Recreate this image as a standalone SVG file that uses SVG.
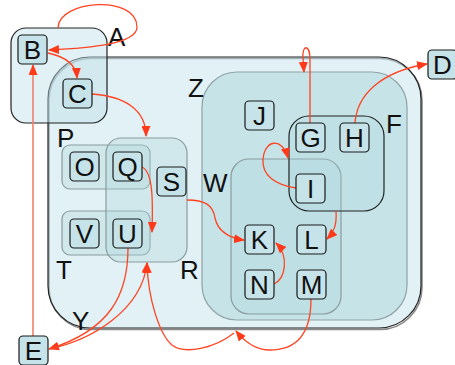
<svg xmlns="http://www.w3.org/2000/svg" width="455" height="365" viewBox="0 0 455 365">
  <defs>
    <style>
      .grp { stroke-width: 1.2; }
      .outer { fill: rgba(190,225,232,0.45); stroke: #222; }
      .inner { fill: rgba(170,214,220,0.5); stroke: #8fa3a5; }
      .box { fill: rgba(175,215,222,0.35); stroke: #8a9c9e; }
      .dark { fill: rgba(170,214,220,0.25); stroke: #222; }
      .node rect { fill: #c5e3e8; stroke: #1a1a1a; stroke-width: 1.2; }
      text { font-family: "Liberation Sans", Arial, sans-serif; font-size: 26px; fill: #111; }
      .node text { text-anchor: middle; }
      .edge { fill: none; stroke: #ff4422; stroke-width: 1.3; marker-end: url(#arrow); }
      .soft { stroke: #f2806c; stroke-width: 1.6; }
    </style>
    <marker id="arrow" viewBox="0 0 11 9" refX="10" refY="4.5" markerWidth="11" markerHeight="9" markerUnits="userSpaceOnUse" orient="auto">
      <path d="M0,0 L11,4.5 L0,9 z" fill="#ff3a1a"/>
    </marker>
  </defs>

  <!-- clusters -->
  <g id="Y">
    <rect x="49" y="58.5" width="373" height="271" rx="42" fill="none" stroke="#8a8a8a" stroke-width="1.6"/>
    <rect class="grp outer" x="48" y="57" width="373" height="271" rx="42"/>
    <text x="72" y="330">Y</text>
  </g>
  <g id="A"><rect class="grp outer" x="11" y="28" width="96" height="95" rx="15" stroke="#444"/><text x="108" y="46">A</text></g>
  <g id="Z"><rect class="grp inner" x="202" y="72" width="205" height="248" rx="35"/><text x="188" y="97">Z</text></g>
  <g id="W"><rect class="grp box" x="231" y="159" width="110" height="155" rx="18"/><text x="203" y="192">W</text></g>
  <g id="F"><rect class="grp dark" x="289" y="116" width="95" height="95" rx="20"/><text x="386" y="133">F</text></g>
  <g id="P"><rect class="grp box" x="62" y="145" width="88" height="44" rx="8"/><text x="57" y="147">P</text></g>
  <g id="T"><rect class="grp box" x="62" y="211" width="88" height="44" rx="8"/><text x="56" y="279">T</text></g>
  <g id="R"><rect class="grp box" x="106" y="138" width="81" height="124" rx="15"/><text x="180" y="279">R</text></g>

  <!-- connectors -->
  <g id="edges">
    <path class="edge" d="M58,28 C58,0 137,-6 137,27 C137,44 90,48 49,50"/>
    <path class="edge" d="M48,53 C62,56 76,62 77,78"/>
    <path class="edge" d="M91,94 C125,96 146,110 146,136"/>
    <path class="edge" d="M142,167 C153,172 153,200 152,232"/>
    <path class="edge" d="M187,200 C205,200 213,205 215,218 C218,232 230,238 244,240"/>
    <path class="edge" d="M128,248 C128,295 110,330 49,349"/>
    <path class="edge" d="M49,349 C92,340 142,310 147,263"/>
    <path class="edge" d="M234,333 C215,348 185,355 172,345 C160,335 148,300 147,263"/>
    <path class="edge" d="M311,299 C311,335 295,350 270,350 C255,350 245,342 236,331"/>
    <path class="edge soft" d="M33,336 L33,65"/>
    <path class="edge" d="M310,123 L310,60 C310,44 302,44 303,58 L304,72"/>
    <path class="edge" d="M296,188 C275,185 262,175 263,160 C264,140 282,136 288,158"/>
    <path class="edge" d="M355,123 C357,95 380,72 427,64"/>
    <path class="edge" d="M336,211 C337,225 334,232 327,239"/>
    <path class="edge" d="M274,284 C286,278 289,256 276,243"/>
  </g>

  <!-- nodes -->
  <g id="B" class="node"><rect x="18" y="35" width="29" height="29" rx="4"/><text x="32.5" y="59">B</text></g>
  <g id="C" class="node"><rect x="63" y="79" width="29" height="29" rx="4"/><text x="77.5" y="103">C</text></g>
  <g id="D" class="node"><rect x="428" y="50" width="29" height="29" rx="4"/><text x="442.5" y="74">D</text></g>
  <g id="E" class="node"><rect x="19" y="336" width="29" height="29" rx="4"/><text x="33.5" y="360">E</text></g>
  <g id="G" class="node"><rect x="296" y="123" width="29" height="29" rx="4"/><text x="310.5" y="147">G</text></g>
  <g id="H" class="node"><rect x="340" y="123" width="29" height="29" rx="4"/><text x="354.5" y="147">H</text></g>
  <g id="I" class="node"><rect x="296" y="174" width="29" height="29" rx="4"/><text x="310.5" y="198">I</text></g>
  <g id="J" class="node"><rect x="245" y="101" width="29" height="29" rx="4"/><text x="259.5" y="125">J</text></g>
  <g id="K" class="node"><rect x="245" y="225" width="29" height="29" rx="4"/><text x="259.5" y="249">K</text></g>
  <g id="L" class="node"><rect x="297" y="225" width="29" height="29" rx="4"/><text x="311.5" y="249">L</text></g>
  <g id="M" class="node"><rect x="297" y="270" width="29" height="29" rx="4"/><text x="311.5" y="294">M</text></g>
  <g id="N" class="node"><rect x="245" y="270" width="29" height="29" rx="4"/><text x="259.5" y="294">N</text></g>
  <g id="O" class="node"><rect x="70" y="152" width="29" height="29" rx="4"/><text x="84.5" y="176">O</text></g>
  <g id="Q" class="node"><rect x="113" y="152" width="29" height="29" rx="4"/><text x="127.5" y="176">Q</text></g>
  <g id="S" class="node"><rect x="157" y="167" width="29" height="29" rx="4"/><text x="171.5" y="191">S</text></g>
  <g id="U" class="node"><rect x="113" y="219" width="29" height="29" rx="4"/><text x="127.5" y="243">U</text></g>
  <g id="V" class="node"><rect x="70" y="219" width="29" height="29" rx="4"/><text x="84.5" y="243">V</text></g>
</svg>
